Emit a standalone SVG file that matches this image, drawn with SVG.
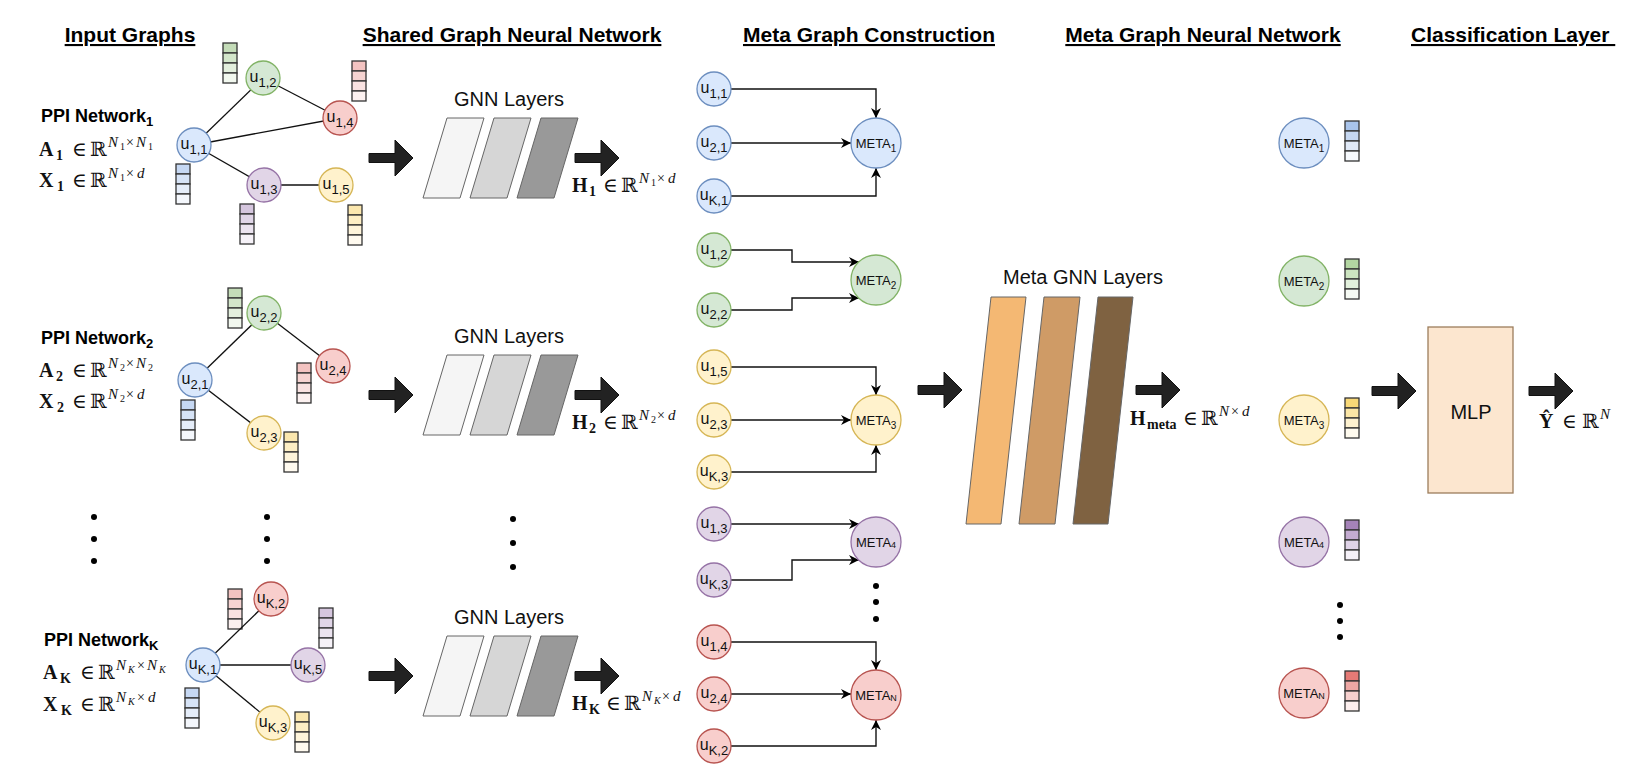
<svg xmlns="http://www.w3.org/2000/svg" width="1642" height="770" viewBox="0 0 1642 770">
<defs>
<style>
.hdr{font-family:"Liberation Sans",Arial,sans-serif;font-weight:bold;font-size:21px;text-decoration:underline;fill:#000}
.ppi{font-family:"Liberation Sans",Arial,sans-serif;font-weight:bold;font-size:18px;fill:#000}
.m{font-family:"Liberation Serif","DejaVu Serif",serif;font-size:20px;fill:#111}
.mb{font-weight:bold}
.mi{font-style:italic}
.lbl{font-family:"Liberation Sans",Arial,sans-serif;font-size:20px;fill:#111}
.nt{font-family:"Liberation Sans",Arial,sans-serif;font-size:16px;fill:#111}
.mt{font-family:"Liberation Sans",Arial,sans-serif;font-size:13px;fill:#111}
.edge{stroke:#111;stroke-width:1.3;fill:none}
.conn{stroke:#111;stroke-width:1.4;fill:none;marker-end:url(#ah)}
.cb{fill:#dae8fc;stroke:#6c8ebf;stroke-width:1.3}
.cg{fill:#d5e8d4;stroke:#82b366;stroke-width:1.3}
.cr{fill:#f8cecc;stroke:#b85450;stroke-width:1.3}
.cp{fill:#e1d5e7;stroke:#9673a6;stroke-width:1.3}
.cy{fill:#fff2cc;stroke:#d6b656;stroke-width:1.3}
.cell{stroke:#333;stroke-width:1.3}
.layer{stroke:#666;stroke-width:1}
.big{fill:#222;stroke:#111;stroke-width:1}
.dot{fill:#000}
</style>
<marker id="ah" viewBox="0 0 10 10" refX="10" refY="5" markerWidth="10" markerHeight="10" markerUnits="userSpaceOnUse" orient="auto">
<path d="M0,0 L10,5 L0,10 L3,5 Z" fill="#000"/>
</marker>
<path id="bigarrow" class="big" d="M0,-4.5 H26 V-18 L44,0 L26,18 V4.5 H0 Z"/>
<g id="v-blue"><rect class="cell" width="14" height="10" fill="#c6d8f3"/><rect class="cell" y="10" width="14" height="10" fill="#d6e3f6"/><rect class="cell" y="20" width="14" height="10" fill="#e5edf9"/><rect class="cell" y="30" width="14" height="10" fill="#f4f7fc"/></g>
<g id="v-green"><rect class="cell" width="14" height="10" fill="#c4dcb8"/><rect class="cell" y="10" width="14" height="10" fill="#d3e6ca"/><rect class="cell" y="20" width="14" height="10" fill="#e3efdd"/><rect class="cell" y="30" width="14" height="10" fill="#f2f8ef"/></g>
<g id="v-red"><rect class="cell" width="14" height="10" fill="#f3c3c1"/><rect class="cell" y="10" width="14" height="10" fill="#f6d3d1"/><rect class="cell" y="20" width="14" height="10" fill="#f9e2e1"/><rect class="cell" y="30" width="14" height="10" fill="#fcf1f0"/></g>
<g id="v-purple"><rect class="cell" width="14" height="10" fill="#d5c6de"/><rect class="cell" y="10" width="14" height="10" fill="#e0d5e7"/><rect class="cell" y="20" width="14" height="10" fill="#ebe3ef"/><rect class="cell" y="30" width="14" height="10" fill="#f6f2f8"/></g>
<g id="v-yellow"><rect class="cell" width="14" height="10" fill="#fbe7ae"/><rect class="cell" y="10" width="14" height="10" fill="#fdeec4"/><rect class="cell" y="20" width="14" height="10" fill="#fef4da"/><rect class="cell" y="30" width="14" height="10" fill="#fffaef"/></g>
<g id="w-blue"><rect class="cell" width="14" height="10" fill="#a9c4eb"/><rect class="cell" y="10" width="14" height="10" fill="#c5d7f1"/><rect class="cell" y="20" width="14" height="10" fill="#e0e9f7"/><rect class="cell" y="30" width="14" height="10" fill="#f6f9fd"/></g>
<g id="w-green"><rect class="cell" width="14" height="10" fill="#b3d6a2"/><rect class="cell" y="10" width="14" height="10" fill="#cce4c0"/><rect class="cell" y="20" width="14" height="10" fill="#e2f0dc"/><rect class="cell" y="30" width="14" height="10" fill="#f6faf4"/></g>
<g id="w-yellow"><rect class="cell" width="14" height="10" fill="#f8d877"/><rect class="cell" y="10" width="14" height="10" fill="#fbe6a6"/><rect class="cell" y="20" width="14" height="10" fill="#fdf1cf"/><rect class="cell" y="30" width="14" height="10" fill="#fffbef"/></g>
<g id="w-purple"><rect class="cell" width="14" height="10" fill="#a583b8"/><rect class="cell" y="10" width="14" height="10" fill="#c4acd1"/><rect class="cell" y="20" width="14" height="10" fill="#dfd3e7"/><rect class="cell" y="30" width="14" height="10" fill="#f5f1f8"/></g>
<g id="w-red"><rect class="cell" width="14" height="10" fill="#e57a76"/><rect class="cell" y="10" width="14" height="10" fill="#eea7a4"/><rect class="cell" y="20" width="14" height="10" fill="#f6d0ce"/><rect class="cell" y="30" width="14" height="10" fill="#fcefee"/></g>
</defs>
<rect width="1642" height="770" fill="#fff"/>

<g id="headers">
<text class="hdr" x="130" y="42" text-anchor="middle">Input Graphs</text>
<text class="hdr" x="512" y="42" text-anchor="middle">Shared Graph Neural Network</text>
<text class="hdr" x="869" y="42" text-anchor="middle">Meta Graph Construction</text>
<text class="hdr" x="1203" y="42" text-anchor="middle">Meta Graph Neural Network</text>
<text class="hdr" x="1411" y="42">Classification Layer&#160;</text>
</g>

<g id="input-labels">
<text class="ppi" x="41" y="122">PPI Network<tspan font-size="13" dy="4">1</tspan></text>
<text class="m" y="156"><tspan x="39" class="mb">A</tspan><tspan x="56" dy="4" font-size="14" class="mb">1</tspan><tspan x="72" dy="-4">∈</tspan><tspan x="90">ℝ</tspan><tspan x="108" dy="-9" font-size="15" class="mi">N</tspan><tspan x="120" dy="3" font-size="10">1</tspan><tspan x="126" dy="-3" font-size="14">×</tspan><tspan x="136" font-size="15" class="mi">N</tspan><tspan x="148" dy="3" font-size="10">1</tspan></text>
<text class="m" y="187"><tspan x="39" class="mb">X</tspan><tspan x="57" dy="4" font-size="14" class="mb">1</tspan><tspan x="72" dy="-4">∈</tspan><tspan x="90">ℝ</tspan><tspan x="108" dy="-9" font-size="15" class="mi">N</tspan><tspan x="120" dy="3" font-size="10">1</tspan><tspan x="126" dy="-3" font-size="14">×</tspan><tspan x="137" font-size="15" class="mi">d</tspan></text>

<text class="ppi" x="41" y="344">PPI Network<tspan font-size="13" dy="4">2</tspan></text>
<text class="m" y="377"><tspan x="39" class="mb">A</tspan><tspan x="56" dy="4" font-size="14" class="mb">2</tspan><tspan x="72" dy="-4">∈</tspan><tspan x="90">ℝ</tspan><tspan x="108" dy="-9" font-size="15" class="mi">N</tspan><tspan x="120" dy="3" font-size="10">2</tspan><tspan x="126" dy="-3" font-size="14">×</tspan><tspan x="136" font-size="15" class="mi">N</tspan><tspan x="148" dy="3" font-size="10">2</tspan></text>
<text class="m" y="408"><tspan x="39" class="mb">X</tspan><tspan x="57" dy="4" font-size="14" class="mb">2</tspan><tspan x="72" dy="-4">∈</tspan><tspan x="90">ℝ</tspan><tspan x="108" dy="-9" font-size="15" class="mi">N</tspan><tspan x="120" dy="3" font-size="10">2</tspan><tspan x="126" dy="-3" font-size="14">×</tspan><tspan x="137" font-size="15" class="mi">d</tspan></text>

<text class="ppi" x="44" y="646">PPI Network<tspan font-size="13" dy="4">K</tspan></text>
<text class="m" y="679"><tspan x="43" class="mb">A</tspan><tspan x="60" dy="4" font-size="14" class="mb">K</tspan><tspan x="80" dy="-4">∈</tspan><tspan x="98">ℝ</tspan><tspan x="116" dy="-9" font-size="15" class="mi">N</tspan><tspan x="128" dy="3" font-size="10" class="mi">K</tspan><tspan x="137" dy="-3" font-size="14">×</tspan><tspan x="147" font-size="15" class="mi">N</tspan><tspan x="159" dy="3" font-size="10" class="mi">K</tspan></text>
<text class="m" y="711"><tspan x="43" class="mb">X</tspan><tspan x="61" dy="4" font-size="14" class="mb">K</tspan><tspan x="80" dy="-4">∈</tspan><tspan x="98">ℝ</tspan><tspan x="116" dy="-9" font-size="15" class="mi">N</tspan><tspan x="128" dy="3" font-size="10" class="mi">K</tspan><tspan x="137" dy="-3" font-size="14">×</tspan><tspan x="148" font-size="15" class="mi">d</tspan></text>
</g>

<g id="feature-vectors">
<use href="#v-green" x="223" y="43"/>
<use href="#v-red" x="352" y="61"/>
<use href="#v-blue" x="176" y="164"/>
<use href="#v-purple" x="240" y="204"/>
<use href="#v-yellow" x="348" y="205"/>
<use href="#v-green" x="228" y="288"/>
<use href="#v-blue" x="181" y="400"/>
<use href="#v-red" x="297" y="363"/>
<use href="#v-yellow" x="284" y="432"/>
<use href="#v-red" x="228" y="589"/>
<use href="#v-purple" x="319" y="608"/>
<use href="#v-blue" x="185" y="688"/>
<use href="#v-yellow" x="295" y="712"/>
</g>

<g id="connectors">
<line class="edge" x1="194" y1="145" x2="263" y2="78"/>
<line class="edge" x1="194" y1="145" x2="340" y2="118"/>
<line class="edge" x1="194" y1="145" x2="264" y2="185"/>
<line class="edge" x1="263" y1="78" x2="340" y2="118"/>
<line class="edge" x1="264" y1="185" x2="336" y2="185"/>
<line class="edge" x1="195" y1="380" x2="264" y2="313"/>
<line class="edge" x1="264" y1="313" x2="333" y2="366"/>
<line class="edge" x1="195" y1="380" x2="264" y2="433"/>
<line class="edge" x1="203" y1="665" x2="271" y2="599"/>
<line class="edge" x1="203" y1="665" x2="308" y2="665"/>
<line class="edge" x1="203" y1="665" x2="273" y2="723"/>

<path class="conn" d="M731,89 H876 V118"/>
<path class="conn" d="M731,143 H851"/>
<path class="conn" d="M731,196 H876 V168"/>
<path class="conn" d="M731,250 H792 V262 H859"/>
<path class="conn" d="M731,310 H792 V298 H859"/>
<path class="conn" d="M731,367 H876 V395"/>
<path class="conn" d="M731,420 H851"/>
<path class="conn" d="M731,472 H876 V445"/>
<path class="conn" d="M731,524 H859"/>
<path class="conn" d="M731,580 H792 V560 H859"/>
<path class="conn" d="M731,642 H876 V670"/>
<path class="conn" d="M731,694 H851"/>
<path class="conn" d="M731,746 H876 V720"/>

<use href="#bigarrow" x="369" y="158"/>
<use href="#bigarrow" x="575" y="158"/>
<use href="#bigarrow" x="369" y="395"/>
<use href="#bigarrow" x="575" y="395"/>
<use href="#bigarrow" x="369" y="676"/>
<use href="#bigarrow" x="575" y="676"/>
<use href="#bigarrow" x="918" y="390"/>
<use href="#bigarrow" x="1136" y="390"/>
<use href="#bigarrow" x="1372" y="391"/>
<use href="#bigarrow" x="1529" y="391"/>
</g>

<g id="graph1-nodes">
<g id="n-u11"><circle class="cb" cx="194" cy="145" r="17"/><text class="nt" x="194" y="149" text-anchor="middle">u<tspan font-size="13" dy="5">1,1</tspan></text></g>
<g id="n-u12"><circle class="cg" cx="263" cy="78" r="17"/><text class="nt" x="263" y="82" text-anchor="middle">u<tspan font-size="13" dy="5">1,2</tspan></text></g>
<g id="n-u14"><circle class="cr" cx="340" cy="118" r="17"/><text class="nt" x="340" y="122" text-anchor="middle">u<tspan font-size="13" dy="5">1,4</tspan></text></g>
<g id="n-u13"><circle class="cp" cx="264" cy="185" r="17"/><text class="nt" x="264" y="189" text-anchor="middle">u<tspan font-size="13" dy="5">1,3</tspan></text></g>
<g id="n-u15"><circle class="cy" cx="336" cy="185" r="17"/><text class="nt" x="336" y="189" text-anchor="middle">u<tspan font-size="13" dy="5">1,5</tspan></text></g>
</g>
<g id="graph2-nodes">
<g id="n-u21"><circle class="cb" cx="195" cy="380" r="17"/><text class="nt" x="195" y="384" text-anchor="middle">u<tspan font-size="13" dy="5">2,1</tspan></text></g>
<g id="n-u22"><circle class="cg" cx="264" cy="313" r="17"/><text class="nt" x="264" y="317" text-anchor="middle">u<tspan font-size="13" dy="5">2,2</tspan></text></g>
<g id="n-u24"><circle class="cr" cx="333" cy="366" r="17"/><text class="nt" x="333" y="370" text-anchor="middle">u<tspan font-size="13" dy="5">2,4</tspan></text></g>
<g id="n-u23"><circle class="cy" cx="264" cy="433" r="17"/><text class="nt" x="264" y="437" text-anchor="middle">u<tspan font-size="13" dy="5">2,3</tspan></text></g>
</g>
<g id="graphK-nodes">
<g id="n-uK1"><circle class="cb" cx="203" cy="665" r="17"/><text class="nt" x="203" y="669" text-anchor="middle">u<tspan font-size="13" dy="5">K,1</tspan></text></g>
<g id="n-uK2"><circle class="cr" cx="271" cy="599" r="17"/><text class="nt" x="271" y="603" text-anchor="middle">u<tspan font-size="13" dy="5">K,2</tspan></text></g>
<g id="n-uK5"><circle class="cp" cx="308" cy="665" r="17"/><text class="nt" x="308" y="669" text-anchor="middle">u<tspan font-size="13" dy="5">K,5</tspan></text></g>
<g id="n-uK3"><circle class="cy" cx="273" cy="723" r="17"/><text class="nt" x="273" y="727" text-anchor="middle">u<tspan font-size="13" dy="5">K,3</tspan></text></g>
</g>

<g id="ellipses">
<circle class="dot" cx="94" cy="517" r="3"/><circle class="dot" cx="94" cy="539" r="3"/><circle class="dot" cx="94" cy="561" r="3"/>
<circle class="dot" cx="267" cy="517" r="3"/><circle class="dot" cx="267" cy="539" r="3"/><circle class="dot" cx="267" cy="561" r="3"/>
<circle class="dot" cx="513" cy="519" r="3"/><circle class="dot" cx="513" cy="543" r="3"/><circle class="dot" cx="513" cy="567" r="3"/>
<circle class="dot" cx="876" cy="586" r="3"/><circle class="dot" cx="876" cy="602" r="3"/><circle class="dot" cx="876" cy="619" r="3"/>
<circle class="dot" cx="1340" cy="605" r="3"/><circle class="dot" cx="1340" cy="621" r="3"/><circle class="dot" cx="1340" cy="637" r="3"/>
</g>

<g id="gnn-1">
<text class="lbl" x="509" y="106" text-anchor="middle">GNN Layers</text>
<polygon class="layer" fill="#f5f5f5" points="447,118 484,118 460,198 423,198"/>
<polygon class="layer" fill="#d6d6d6" points="494,118 531,118 507,198 470,198"/>
<polygon class="layer" fill="#999999" points="541,118 578,118 554,198 517,198"/>
<text class="m" y="192"><tspan x="572" class="mb">H</tspan><tspan x="589" dy="4" font-size="14" class="mb">1</tspan><tspan x="603" dy="-4">∈</tspan><tspan x="621">ℝ</tspan><tspan x="639" dy="-9" font-size="15" class="mi">N</tspan><tspan x="651" dy="3" font-size="10">1</tspan><tspan x="657" dy="-3" font-size="14">×</tspan><tspan x="668" font-size="15" class="mi">d</tspan></text>
</g>
<g id="gnn-2">
<text class="lbl" x="509" y="343" text-anchor="middle">GNN Layers</text>
<polygon class="layer" fill="#f5f5f5" points="447,355 484,355 460,435 423,435"/>
<polygon class="layer" fill="#d6d6d6" points="494,355 531,355 507,435 470,435"/>
<polygon class="layer" fill="#999999" points="541,355 578,355 554,435 517,435"/>
<text class="m" y="429"><tspan x="572" class="mb">H</tspan><tspan x="589" dy="4" font-size="14" class="mb">2</tspan><tspan x="603" dy="-4">∈</tspan><tspan x="621">ℝ</tspan><tspan x="639" dy="-9" font-size="15" class="mi">N</tspan><tspan x="651" dy="3" font-size="10">2</tspan><tspan x="657" dy="-3" font-size="14">×</tspan><tspan x="668" font-size="15" class="mi">d</tspan></text>
</g>
<g id="gnn-K">
<text class="lbl" x="509" y="624" text-anchor="middle">GNN Layers</text>
<polygon class="layer" fill="#f5f5f5" points="447,636 484,636 460,716 423,716"/>
<polygon class="layer" fill="#d6d6d6" points="494,636 531,636 507,716 470,716"/>
<polygon class="layer" fill="#999999" points="541,636 578,636 554,716 517,716"/>
<text class="m" y="710"><tspan x="572" class="mb">H</tspan><tspan x="589" dy="4" font-size="14" class="mb">K</tspan><tspan x="606" dy="-4">∈</tspan><tspan x="624">ℝ</tspan><tspan x="642" dy="-9" font-size="15" class="mi">N</tspan><tspan x="654" dy="3" font-size="10" class="mi">K</tspan><tspan x="662" dy="-3" font-size="14">×</tspan><tspan x="673" font-size="15" class="mi">d</tspan></text>
</g>

<g id="meta-inputs">
<g id="m-u11"><circle class="cb" cx="714" cy="89" r="17"/><text class="nt" x="714" y="93" text-anchor="middle">u<tspan font-size="13" dy="5">1,1</tspan></text></g>
<g id="m-u21"><circle class="cb" cx="714" cy="143" r="17"/><text class="nt" x="714" y="147" text-anchor="middle">u<tspan font-size="13" dy="5">2,1</tspan></text></g>
<g id="m-uK1"><circle class="cb" cx="714" cy="196" r="17"/><text class="nt" x="714" y="200" text-anchor="middle">u<tspan font-size="13" dy="5">K,1</tspan></text></g>
<g id="m-u12"><circle class="cg" cx="714" cy="250" r="17"/><text class="nt" x="714" y="254" text-anchor="middle">u<tspan font-size="13" dy="5">1,2</tspan></text></g>
<g id="m-u22"><circle class="cg" cx="714" cy="310" r="17"/><text class="nt" x="714" y="314" text-anchor="middle">u<tspan font-size="13" dy="5">2,2</tspan></text></g>
<g id="m-u15"><circle class="cy" cx="714" cy="367" r="17"/><text class="nt" x="714" y="371" text-anchor="middle">u<tspan font-size="13" dy="5">1,5</tspan></text></g>
<g id="m-u23"><circle class="cy" cx="714" cy="420" r="17"/><text class="nt" x="714" y="424" text-anchor="middle">u<tspan font-size="13" dy="5">2,3</tspan></text></g>
<g id="m-uK3y"><circle class="cy" cx="714" cy="472" r="17"/><text class="nt" x="714" y="476" text-anchor="middle">u<tspan font-size="13" dy="5">K,3</tspan></text></g>
<g id="m-u13"><circle class="cp" cx="714" cy="524" r="17"/><text class="nt" x="714" y="528" text-anchor="middle">u<tspan font-size="13" dy="5">1,3</tspan></text></g>
<g id="m-uK3p"><circle class="cp" cx="714" cy="580" r="17"/><text class="nt" x="714" y="584" text-anchor="middle">u<tspan font-size="13" dy="5">K,3</tspan></text></g>
<g id="m-u14"><circle class="cr" cx="714" cy="642" r="17"/><text class="nt" x="714" y="646" text-anchor="middle">u<tspan font-size="13" dy="5">1,4</tspan></text></g>
<g id="m-u24"><circle class="cr" cx="714" cy="694" r="17"/><text class="nt" x="714" y="698" text-anchor="middle">u<tspan font-size="13" dy="5">2,4</tspan></text></g>
<g id="m-uK2"><circle class="cr" cx="714" cy="746" r="17"/><text class="nt" x="714" y="750" text-anchor="middle">u<tspan font-size="13" dy="5">K,2</tspan></text></g>
</g>

<g id="meta-nodes">
<g id="meta1"><circle class="cb" cx="876" cy="143" r="25"/><text class="mt" x="876" y="148" text-anchor="middle">META<tspan font-size="10" dy="4">1</tspan></text></g>
<g id="meta2"><circle class="cg" cx="876" cy="280" r="25"/><text class="mt" x="876" y="285" text-anchor="middle">META<tspan font-size="10" dy="4">2</tspan></text></g>
<g id="meta3"><circle class="cy" cx="876" cy="420" r="25"/><text class="mt" x="876" y="425" text-anchor="middle">META<tspan font-size="10" dy="4">3</tspan></text></g>
<g id="meta4"><circle class="cp" cx="876" cy="542" r="25"/><text class="mt" x="876" y="547" text-anchor="middle">META<tspan font-size="9" dy="1">4</tspan></text></g>
<g id="metaN"><circle class="cr" cx="876" cy="695" r="25"/><text class="mt" x="876" y="700" text-anchor="middle">META<tspan font-size="9" dy="1">N</tspan></text></g>
</g>

<g id="meta-gnn">
<text class="lbl" x="1083" y="284" text-anchor="middle" font-size="21">Meta GNN Layers</text>
<polygon class="layer" fill="#f4b873" points="991,297 1026,297 1001,524 966,524"/>
<polygon class="layer" fill="#cf9b66" points="1044,297 1080,297 1055,524 1019,524"/>
<polygon class="layer" fill="#7f6241" points="1098,297 1133,297 1108,524 1073,524"/>
<text class="m" y="425"><tspan x="1130" class="mb">H</tspan><tspan x="1147" dy="4" font-size="14" class="mb">meta</tspan><tspan x="1183" dy="-4">∈</tspan><tspan x="1201">ℝ</tspan><tspan x="1219" dy="-9" font-size="15" class="mi">N</tspan><tspan x="1231" font-size="14">×</tspan><tspan x="1242" font-size="15" class="mi">d</tspan></text>
</g>

<g id="meta-embeddings">
<g id="e-meta1"><circle class="cb" cx="1304" cy="143" r="25"/><text class="mt" x="1304" y="148" text-anchor="middle">META<tspan font-size="10" dy="4">1</tspan></text><use href="#w-blue" x="1345" y="121"/></g>
<g id="e-meta2"><circle class="cg" cx="1304" cy="281" r="25"/><text class="mt" x="1304" y="286" text-anchor="middle">META<tspan font-size="10" dy="4">2</tspan></text><use href="#w-green" x="1345" y="259"/></g>
<g id="e-meta3"><circle class="cy" cx="1304" cy="420" r="25"/><text class="mt" x="1304" y="425" text-anchor="middle">META<tspan font-size="10" dy="4">3</tspan></text><use href="#w-yellow" x="1345" y="398"/></g>
<g id="e-meta4"><circle class="cp" cx="1304" cy="542" r="25"/><text class="mt" x="1304" y="547" text-anchor="middle">META<tspan font-size="9" dy="1">4</tspan></text><use href="#w-purple" x="1345" y="520"/></g>
<g id="e-metaN"><circle class="cr" cx="1304" cy="693" r="25"/><text class="mt" x="1304" y="698" text-anchor="middle">META<tspan font-size="9" dy="1">N</tspan></text><use href="#w-red" x="1345" y="671"/></g>
</g>

<g id="mlp">
<rect x="1428" y="327" width="85" height="166" fill="#fce6cf" stroke="#9c7d5c" stroke-width="1.3"/>
<text class="lbl" x="1471" y="419" text-anchor="middle" font-size="19">MLP</text>
</g>
<g id="output-label">
<text class="m" y="428"><tspan x="1539" class="mb">Ŷ</tspan><tspan x="1562">∈</tspan><tspan x="1582">ℝ</tspan><tspan x="1600" dy="-9" font-size="15" class="mi">N</tspan></text>
</g>
</svg>
